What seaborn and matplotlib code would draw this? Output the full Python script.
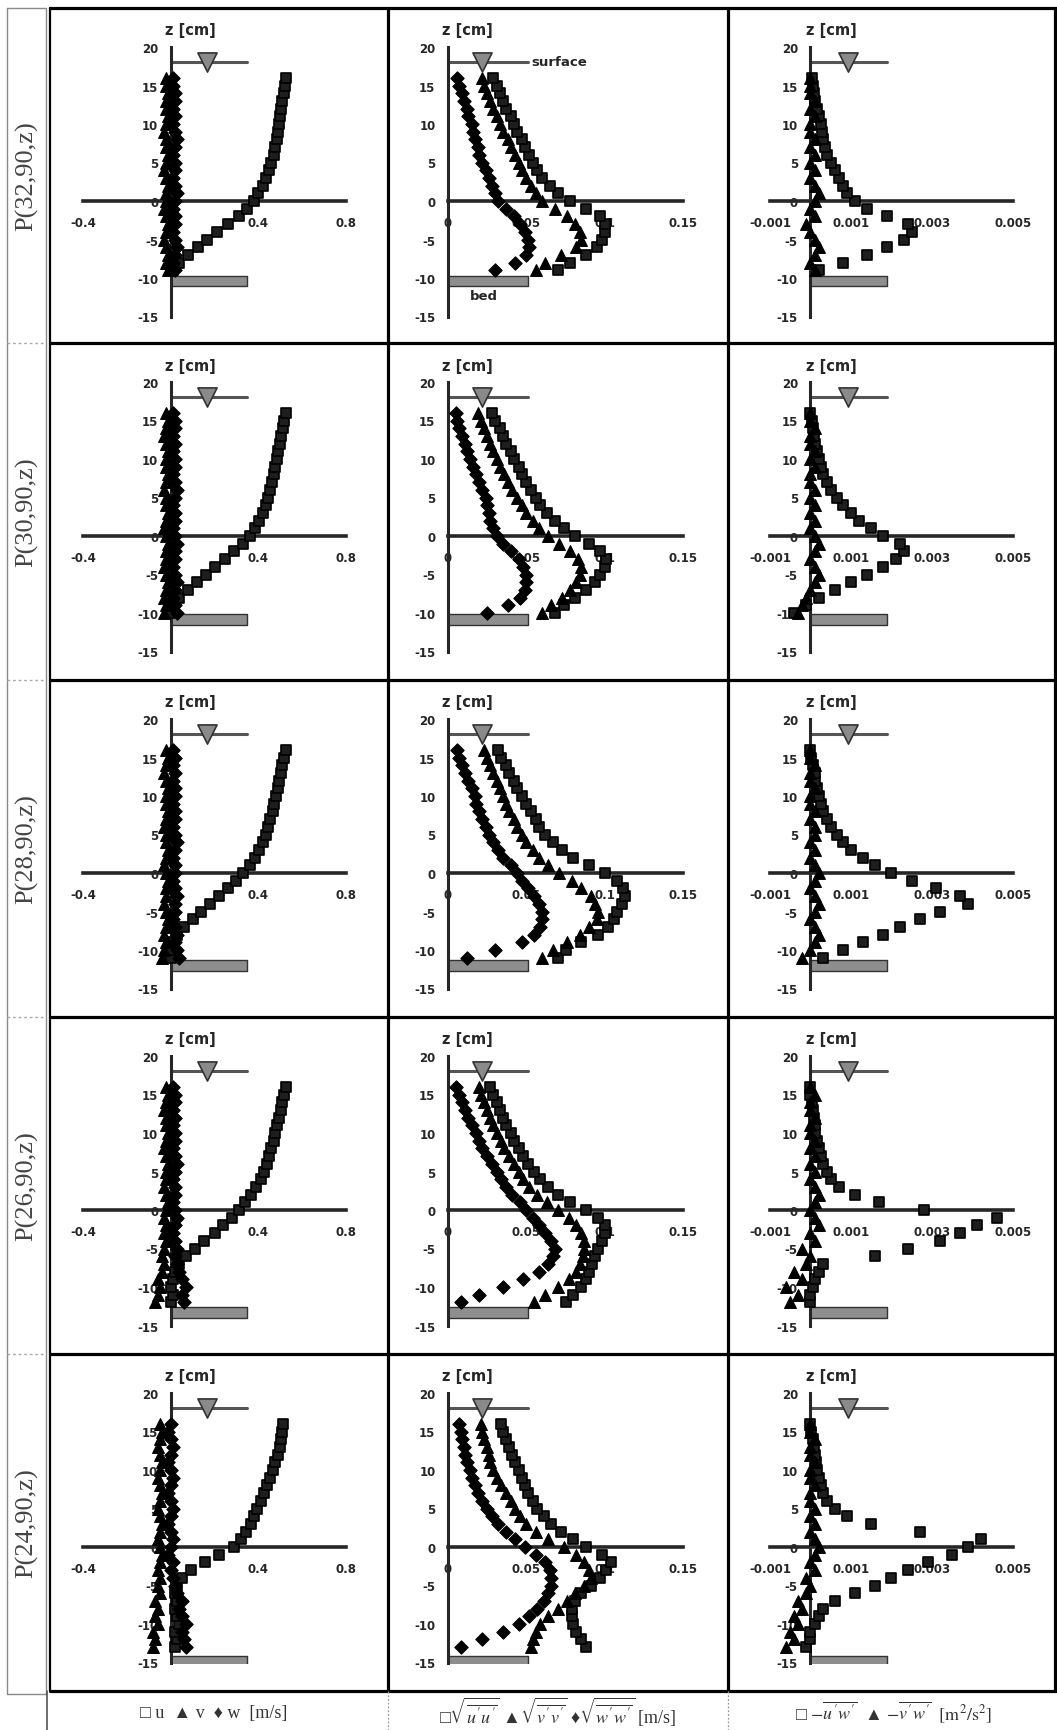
import matplotlib
matplotlib.use("Agg")
import matplotlib.pyplot as plt
from matplotlib.ticker import FixedLocator, MultipleLocator
import seaborn as sns

W, H = 1057, 1731

row_names = ["P(32,90,z)", "P(30,90,z)", "P(28,90,z)", "P(26,90,z)", "P(24,90,z)"]

# measurement heights per station [cm]
z_r1 = [-9, -8, -7, -6, -5, -4, -3, -2, -1, 0, 1, 2, 3, 4, 5, 6, 7, 8, 9, 10, 11, 12, 13, 14, 15, 16]
z_r2 = [-10, -9, -8, -7, -6, -5, -4, -3, -2, -1, 0, 1, 2, 3, 4, 5, 6, 7, 8, 9, 10, 11, 12, 13, 14, 15, 16]
z_r3 = [-11, -10, -9, -8, -7, -6, -5, -4, -3, -2, -1, 0, 1, 2, 3, 4, 5, 6, 7, 8, 9, 10, 11, 12, 13, 14, 15, 16]
z_r4 = [-12, -11, -10, -9, -8, -7, -6, -5, -4, -3, -2, -1, 0, 1, 2, 3, 4, 5, 6, 7, 8, 9, 10, 11, 12, 13, 14, 15, 16]
z_r5 = [-13, -12, -11, -10, -9, -8, -7, -6, -5, -4, -3, -2, -1, 0, 1, 2, 3, 4, 5, 6, 7, 8, 9, 10, 11, 12, 13, 14, 15, 16]

bed_level = [-9.7, -10.1, -11.3, -12.6, -14.1]
surface_level = 18.0

# mean velocities u, v, w [m/s]
u_r1 = [0.01, 0.04, 0.08, 0.125, 0.165, 0.21, 0.26, 0.31, 0.35, 0.38, 0.40, 0.42, 0.435, 0.45, 0.46,
        0.47, 0.478, 0.485, 0.49, 0.495, 0.50, 0.505, 0.51, 0.515, 0.52, 0.528]
v_r1 = [-0.01, -0.02, -0.01, -0.02, -0.03, -0.02, -0.01, -0.02, -0.03, -0.02, -0.02, -0.01, -0.02, -0.03,
        -0.02, -0.01, -0.02, -0.02, -0.03, -0.02, -0.01, -0.02, -0.02, -0.01, -0.02, -0.02]
w_r1 = [0.02, 0.01, 0.02, 0.03, 0.02, 0.01, 0.02, 0.02, 0.01, 0.02, 0.03, 0.02, 0.01, 0.02, 0.02,
        0.01, 0.02, 0.03, 0.02, 0.01, 0.02, 0.01, 0.02, 0.02, 0.01, 0.01]

u_r2 = [0.0, 0.01, 0.04, 0.08, 0.12, 0.16, 0.2, 0.25, 0.29, 0.33, 0.36, 0.385, 0.405, 0.42, 0.435,
        0.445, 0.455, 0.463, 0.47, 0.478, 0.485, 0.492, 0.5, 0.505, 0.512, 0.518, 0.525]
v_r2 = [-0.03, -0.02, -0.03, -0.02, -0.01, -0.02, -0.03, -0.02, -0.02, -0.01, -0.02, -0.03, -0.02, -0.01,
        -0.02, -0.02, -0.03, -0.02, -0.01, -0.02, -0.02, -0.01, -0.02, -0.03, -0.02, -0.01, -0.02]
w_r2 = [0.03, 0.02, 0.01, 0.02, 0.03, 0.02, 0.01, 0.02, 0.02, 0.03, 0.02, 0.01, 0.02, 0.02, 0.01,
        0.02, 0.03, 0.02, 0.01, 0.02, 0.02, 0.01, 0.02, 0.01, 0.02, 0.02, 0.01]

u_r3 = [0.0, 0.0, 0.01, 0.03, 0.06, 0.1, 0.14, 0.18, 0.22, 0.26, 0.3, 0.33, 0.36, 0.385, 0.405,
        0.42, 0.435, 0.445, 0.455, 0.465, 0.473, 0.48, 0.488, 0.495, 0.503, 0.51, 0.518, 0.525]
v_r3 = [-0.04, -0.03, -0.02, -0.03, -0.02, -0.01, -0.02, -0.03, -0.02, -0.02, -0.01, -0.02, -0.03, -0.02,
        -0.01, -0.02, -0.02, -0.03, -0.02, -0.01, -0.02, -0.02, -0.01, -0.02, -0.03, -0.02, -0.01, -0.02]
w_r3 = [0.04, 0.03, 0.02, 0.03, 0.02, 0.01, 0.02, 0.02, 0.03, 0.02, 0.01, 0.02, 0.02, 0.01, 0.02,
        0.03, 0.02, 0.01, 0.02, 0.02, 0.01, 0.02, 0.02, 0.01, 0.02, 0.01, 0.02, 0.01]

u_r4 = [0.0, 0.01, 0.0, 0.01, 0.02, 0.04, 0.07, 0.11, 0.15, 0.2, 0.24, 0.28, 0.31, 0.34, 0.365,
        0.39, 0.41, 0.425, 0.44, 0.45, 0.46, 0.47, 0.478, 0.486, 0.494, 0.502, 0.51, 0.518, 0.525]
v_r4 = [-0.07, -0.06, -0.05, -0.06, -0.04, -0.03, -0.04, -0.03, -0.02, -0.03, -0.02, -0.03, -0.02, -0.01,
        -0.02, -0.03, -0.02, -0.02, -0.01, -0.02, -0.03, -0.02, -0.01, -0.02, -0.02, -0.03, -0.02, -0.01, -0.02]
w_r4 = [0.06, 0.05, 0.07, 0.05, 0.04, 0.03, 0.02, 0.03, 0.02, 0.01, 0.02, 0.03, 0.02, 0.01, 0.02,
        0.02, 0.01, 0.02, 0.03, 0.02, 0.01, 0.02, 0.02, 0.01, 0.02, 0.01, 0.02, 0.02, 0.01]

u_r5 = [0.02, 0.03, 0.02, 0.04, 0.03, 0.02, 0.03, 0.02, 0.03, 0.05, 0.092, 0.157, 0.222, 0.287, 0.32,
        0.345, 0.365, 0.382, 0.395, 0.41, 0.425, 0.44, 0.452, 0.465, 0.477, 0.488, 0.498, 0.504, 0.508, 0.512]
v_r5 = [-0.08, -0.07, -0.08, -0.06, -0.07, -0.06, -0.07, -0.05, -0.06, -0.05, -0.06, -0.05, -0.04, -0.05,
        -0.06, -0.05, -0.04, -0.05, -0.06, -0.05, -0.04, -0.05, -0.06, -0.05, -0.04, -0.05, -0.06, -0.05,
        -0.04, -0.05]
w_r5 = [0.07, 0.06, 0.05, 0.07, 0.05, 0.04, 0.05, 0.03, 0.02, 0.01, 0.0, 0.01, -0.01, 0.0, 0.01,
        0.0, -0.01, 0.0, 0.01, 0.0, -0.01, 0.0, 0.01, 0.0, -0.01, 0.0, 0.01, 0.0, -0.01, 0.0]

# rms fluctuations sqrt(u'u'), sqrt(v'v'), sqrt(w'w') [m/s]
su_r1 = [0.07, 0.078, 0.088, 0.095, 0.098, 0.1, 0.1, 0.097, 0.088, 0.078, 0.07, 0.065, 0.06, 0.057, 0.054,
         0.052, 0.049, 0.047, 0.044, 0.042, 0.04, 0.037, 0.035, 0.033, 0.031, 0.029]
sv_r1 = [0.056, 0.062, 0.072, 0.082, 0.085, 0.084, 0.081, 0.076, 0.068, 0.06, 0.056, 0.053, 0.05, 0.047,
         0.045, 0.043, 0.04, 0.038, 0.035, 0.033, 0.031, 0.029, 0.027, 0.025, 0.023, 0.022]
sw_r1 = [0.03, 0.043, 0.05, 0.052, 0.051, 0.049, 0.046, 0.042, 0.037, 0.032, 0.03, 0.028, 0.026, 0.024,
         0.022, 0.02, 0.019, 0.017, 0.016, 0.015, 0.013, 0.012, 0.01, 0.009, 0.007, 0.006]

su_r2 = [0.068, 0.074, 0.081, 0.088, 0.094, 0.097, 0.1, 0.101, 0.097, 0.09, 0.081, 0.074, 0.068, 0.063,
         0.059, 0.056, 0.053, 0.05, 0.047, 0.045, 0.042, 0.04, 0.037, 0.035, 0.033, 0.03, 0.028]
sv_r2 = [0.06, 0.066, 0.073, 0.078, 0.082, 0.084, 0.085, 0.083, 0.078, 0.071, 0.064, 0.058, 0.054, 0.05,
         0.047, 0.044, 0.041, 0.038, 0.036, 0.033, 0.031, 0.029, 0.027, 0.025, 0.023, 0.021, 0.019]
sw_r2 = [0.025, 0.038, 0.046, 0.049, 0.05, 0.05, 0.048, 0.045, 0.04, 0.035, 0.031, 0.029, 0.027, 0.026,
         0.025, 0.024, 0.022, 0.02, 0.018, 0.016, 0.014, 0.012, 0.011, 0.009, 0.007, 0.006, 0.005]

su_r3 = [0.07, 0.075, 0.085, 0.096, 0.102, 0.106, 0.108, 0.111, 0.113, 0.112, 0.108, 0.1, 0.09, 0.08,
         0.073, 0.067, 0.062, 0.058, 0.056, 0.053, 0.05, 0.047, 0.044, 0.042, 0.039, 0.037, 0.034, 0.032]
sv_r3 = [0.06, 0.067, 0.076, 0.084, 0.09, 0.095, 0.096, 0.094, 0.091, 0.085, 0.079, 0.071, 0.064, 0.058,
         0.054, 0.05, 0.047, 0.044, 0.042, 0.039, 0.037, 0.035, 0.033, 0.031, 0.029, 0.027, 0.025, 0.023]
sw_r3 = [0.012, 0.03, 0.047, 0.055, 0.059, 0.06, 0.06, 0.058, 0.055, 0.051, 0.047, 0.044, 0.04, 0.035,
         0.032, 0.029, 0.026, 0.024, 0.022, 0.02, 0.018, 0.017, 0.015, 0.013, 0.011, 0.009, 0.007, 0.006]

su_r4 = [0.075, 0.08, 0.085, 0.088, 0.09, 0.092, 0.094, 0.096, 0.098, 0.1, 0.1, 0.096, 0.088, 0.078,
         0.07, 0.064, 0.059, 0.055, 0.051, 0.048, 0.045, 0.042, 0.04, 0.037, 0.035, 0.033, 0.031, 0.029, 0.027]
sv_r4 = [0.055, 0.062, 0.07, 0.077, 0.082, 0.084, 0.086, 0.087, 0.087, 0.085, 0.082, 0.077, 0.07, 0.063,
         0.057, 0.052, 0.048, 0.045, 0.042, 0.039, 0.036, 0.034, 0.031, 0.029, 0.027, 0.025, 0.023, 0.021, 0.02]
sw_r4 = [0.008, 0.02, 0.035, 0.048, 0.058, 0.064, 0.067, 0.068, 0.066, 0.062, 0.058, 0.054, 0.05, 0.046,
         0.041, 0.037, 0.034, 0.031, 0.028, 0.025, 0.022, 0.02, 0.018, 0.015, 0.013, 0.011, 0.009, 0.007, 0.005]

su_r5 = [0.088, 0.085, 0.082, 0.08, 0.079, 0.079, 0.081, 0.085, 0.091, 0.097, 0.101, 0.104, 0.098, 0.088,
         0.08, 0.072, 0.066, 0.061, 0.057, 0.054, 0.051, 0.049, 0.047, 0.045, 0.043, 0.041, 0.039, 0.037,
         0.035, 0.034]
sv_r5 = [0.053, 0.054, 0.056, 0.059, 0.064, 0.07, 0.076, 0.081, 0.087, 0.091, 0.09, 0.087, 0.082, 0.074,
         0.064, 0.056, 0.05, 0.046, 0.043, 0.04, 0.037, 0.034, 0.031, 0.029, 0.027, 0.026, 0.025, 0.023,
         0.022, 0.021]
sw_r5 = [0.008, 0.022, 0.035, 0.045, 0.052, 0.057, 0.061, 0.064, 0.066, 0.066, 0.065, 0.062, 0.056, 0.049,
         0.043, 0.037, 0.032, 0.028, 0.025, 0.022, 0.019, 0.017, 0.015, 0.014, 0.012, 0.011, 0.01, 0.009,
         0.008, 0.007]

# Reynolds stresses -u'w', -v'w' [m2/s2]
uw_r1 = [0.0002, 0.0008, 0.0014, 0.0019, 0.0023, 0.0025, 0.0024, 0.0019, 0.0014, 0.0011, 0.0009, 0.0008,
         0.0007, 0.0006, 0.0005, 0.0004, 0.00035, 0.0003, 0.00028, 0.00025, 0.0002, 0.00015, 0.0001,
         0.00008, 0.00005, 0.00003]
vw_r1 = [0.0001, 0.0, 0.0001, 0.0002, 0.0001, 0.0, -0.0001, 0.0001, 0.0, 0.0001, 0.0002, 0.0001, 0.0,
         0.0001, 0.0, 0.0001, 0.0, 0.0001, 0.0, 0.0, 0.0001, 0.0, 0.0001, 0.0, 0.0, 0.0]

uw_r2 = [-0.0004, -0.0001, 0.0002, 0.0006, 0.001, 0.0014, 0.0018, 0.0021, 0.0023, 0.0022, 0.0018, 0.0015,
         0.0012, 0.001, 0.0008, 0.00065, 0.0005, 0.0004, 0.0003, 0.00025, 0.0002, 0.00015, 0.0001,
         0.00008, 0.00005, 0.00003, 0.0]
vw_r2 = [-0.0003, -0.0002, -0.0001, 0.0, 0.0001, 0.0002, 0.0001, 0.0, 0.0001, 0.0002, 0.0001, 0.0, 0.0001,
         0.0, 0.0001, 0.0, 0.0001, 0.0, 0.0, 0.0001, 0.0, 0.0001, 0.0, 0.0, 0.0001, 0.0, 0.0]

uw_r3 = [0.0003, 0.0008, 0.0013, 0.0018, 0.0022, 0.0027, 0.0032, 0.0039, 0.0037, 0.0031, 0.0025, 0.002,
         0.0016, 0.0013, 0.001, 0.0008, 0.00065, 0.0005, 0.0004, 0.0003, 0.00025, 0.0002, 0.00015, 0.00012,
         0.0001, 0.00005, 0.00002, 0.0]
vw_r3 = [-0.0002, 0.0, 0.0001, 0.0002, 0.0001, 0.0, 0.0001, 0.0002, 0.0001, 0.0, 0.0001, 0.0002, 0.0001,
         0.0, 0.0001, 0.0, 0.0001, 0.0001, 0.0, 0.0001, 0.0, 0.0, 0.0001, 0.0, 0.0, 0.0001, 0.0, 0.0]

uw_r4 = [0.0, 0.0, 0.00005, 0.0001, 0.0002, 0.0003, 0.0016, 0.0024, 0.0032, 0.0037, 0.0041, 0.0046, 0.0028,
         0.0017, 0.0011, 0.0007, 0.0005, 0.0004, 0.0003, 0.00025, 0.0002, 0.00015, 0.00012, 0.0001,
         0.00008, 0.00005, 0.00003, 0.0, 0.0]
vw_r4 = [-0.0005, -0.0003, -0.0006, -0.0002, -0.0004, -0.0001, 0.0, -0.0002, 0.0001, 0.0, 0.0002, 0.0001,
         0.0, 0.0001, 0.0002, 0.0001, 0.0, 0.0001, 0.0, 0.0001, 0.0, 0.0001, 0.0, 0.0, 0.0001, 0.0, 0.0,
         0.0001, 0.0]

uw_r5 = [-0.0001, 0.0, 0.0, 0.0001, 0.0002, 0.0003, 0.0006, 0.0011, 0.0016, 0.002, 0.0024, 0.0029, 0.0035,
         0.0039, 0.0042, 0.0027, 0.0015, 0.0009, 0.0006, 0.0004, 0.0003, 0.00025, 0.0002, 0.00016, 0.00013,
         0.0001, 0.00008, 0.00005, 0.00002, 0.0]
vw_r5 = [-0.0006, -0.0004, -0.0005, -0.0003, -0.0004, -0.0002, -0.0003, -0.0001, 0.0, -0.0001, 0.0001, 0.0,
         0.0001, 0.0002, 0.0001, 0.0, 0.0001, 0.0, 0.0001, 0.0, 0.0, 0.0001, 0.0, 0.0, 0.0001, 0.0, 0.0,
         0.0001, 0.0, 0.0]

z_rows = [z_r1, z_r2, z_r3, z_r4, z_r5]
panel_series = [
    [(u_r1, v_r1, w_r1), (u_r2, v_r2, w_r2), (u_r3, v_r3, w_r3), (u_r4, v_r4, w_r4), (u_r5, v_r5, w_r5)],
    [(su_r1, sv_r1, sw_r1), (su_r2, sv_r2, sw_r2), (su_r3, sv_r3, sw_r3), (su_r4, sv_r4, sw_r4),
     (su_r5, sv_r5, sw_r5)],
    [(uw_r1, vw_r1), (uw_r2, vw_r2), (uw_r3, vw_r3), (uw_r4, vw_r4), (uw_r5, vw_r5)],
]

sns.set_style("white")
plt.rcParams["font.family"] = ["DejaVu Sans"]
plt.rcParams["mathtext.fontset"] = "stix"

# pixel layout of the table
col_px = [(83, 346), (448, 683), (770, 1013)]
col_xlim = [(-0.4, 0.8), (0.0, 0.15), (-0.001, 0.005)]
col_xticks = [[-0.4, 0.4, 0.8], [0.0, 0.05, 0.1, 0.15], [-0.001, 0.001, 0.003, 0.005]]
col_xlabels = [["-0.4", "0.4", "0.8"], ["0", "0.05", "0.1", "0.15"], ["-0.001", "0.001", "0.003", "0.005"]]
col_axis_px = [171, 448, 812]
deco_end = [0.35, 0.051, 0.0019]      # extent of surface line / bed bar
tri_x = [0.165, 0.022, 0.00093]
row_top = [9, 344, 681, 1018, 1355]
row_bot = [344, 681, 1018, 1355, 1692]

markers = [("s", "#1e1e1e", 62, 1.2), ("^", "black", 72, 0.8), ("D", "black", 46, 0.8)]

fig = plt.figure(figsize=(W / 100, H / 100), dpi=100)
bg = fig.add_axes([0, 0, 1, 1])
bg.set_xlim(0, W)
bg.set_ylim(H, 0)
bg.axis("off")

# table frame
lw_thick = 2.3
bg.plot([50, W], [9, 9], color="black", lw=lw_thick)
for y in row_bot:
    bg.plot([50, W], [y, y], color="black", lw=lw_thick)
for x in [50, 388, 728, 1055]:
    bg.plot([x, x], [9, 1692], color="black", lw=lw_thick if x != 50 else 1.6)
bg.plot([7, 46, 46, 7, 7], [9, 9, 1695, 1695, 9], color="#8a8a8a", lw=1.0)
for y in row_bot[:-1]:
    bg.plot([7, 46], [y, y], color="#aaaaaa", lw=1.0, ls=(0, (2, 2)))
bg.plot([47, 47], [1692, H], color="#555555", lw=1.2)
for x in [388, 728]:
    bg.plot([x, x], [1692, H], color="#999999", lw=0.9, ls=(0, (1.5, 1.5)))

for r in range(5):
    top = row_top[r]
    bg.text(27, (top + row_bot[r]) / 2, row_names[r], rotation=90, ha="center", va="center",
            family="Liberation Serif", fontsize=19, color="#444444")
    y_hi, y_lo = top + 39, top + 308.5
    for c in range(3):
        x0, x1 = col_px[c]
        ax = fig.add_axes([x0 / W, 1 - y_lo / H, (x1 - x0) / W, (y_lo - y_hi) / H])
        ax.patch.set_alpha(0)
        ax.set_xlim(*col_xlim[c])
        ax.set_ylim(-15, 20)
        for side in ["top", "right"]:
            ax.spines[side].set_visible(False)
        ax.spines["left"].set_position(("data", 0))
        ax.spines["bottom"].set_position(("data", 0))
        ax.spines["left"].set_linewidth(2.2)
        ax.spines["bottom"].set_linewidth(2.6)
        ax.xaxis.set_major_locator(FixedLocator(col_xticks[c]))
        ax.set_xticklabels(col_xlabels[c], fontweight="bold", fontsize=8.5)
        ax.yaxis.set_major_locator(FixedLocator([-15, -10, -5, 0, 5, 10, 15, 20]))
        ax.set_yticklabels(["-15", "-10", "-5", "0", "5", "10", "15", "20"], fontweight="bold", fontsize=8.5)
        ax.yaxis.set_minor_locator(MultipleLocator(1))
        ax.tick_params(axis="y", which="major", direction="out", length=4, width=1.5, pad=5)
        ax.tick_params(axis="y", which="minor", direction="in", length=2, width=1)
        ax.tick_params(axis="x", which="major", direction="inout", length=4, width=1.2, pad=9)
        ax.set_xlabel("")
        ax.set_ylabel("")

        # bed and free surface
        ax.fill_between([0, deco_end[c]], bed_level[r] - 1.4, bed_level[r], color="#8e8e8e",
                        edgecolor="#333333", linewidth=1.0, zorder=2)
        ax.plot([0, deco_end[c]], [surface_level, surface_level], color="#555555", lw=2.2, zorder=2)

        z = z_rows[r]
        for vals, (m, fc, s, lw) in zip(panel_series[c][r], markers):
            sns.scatterplot(x=vals, y=z, ax=ax, marker=m, s=s, color=fc, edgecolor="black",
                            linewidth=lw, legend=False, clip_on=False, zorder=3)
        sns.scatterplot(x=[tri_x[c]], y=[surface_level], ax=ax, marker="v", s=190, color="#8a8a8a",
                        edgecolor="#333333", linewidth=1.2, legend=False, clip_on=False, zorder=4)

        bg.text(col_axis_px[c] - 6, top + 22, "z [cm]", ha="left", va="center",
                fontweight="bold", fontsize=10.5)

bg.text(531, 63, "surface", ha="left", va="center", fontweight="bold", fontsize=9.5)
bg.text(484, 297, "bed", ha="center", va="center", fontweight="bold", fontsize=9.5)

# legend row
leg_font = ["Liberation Serif", "DejaVu Sans"]
bg.text(214, 1714, "□ u  ▲ v  ♦ w  [m/s]", ha="center", va="center", family=leg_font,
        fontsize=13, color="#333333")
bg.text(558, 1712,
        r"□$\sqrt{\overline{u'u'}}$ ▲$\sqrt{\overline{v'v'}}$ ♦$\sqrt{\overline{w'w'}}$ [m/s]",
        ha="center", va="center", family=leg_font, fontsize=13, color="#333333")
bg.text(893, 1712, r"□ $-\overline{u'w'}$  ▲ $-\overline{v'w'}$  $[\mathrm{m}^2/\mathrm{s}^2]$",
        ha="center", va="center", family=leg_font, fontsize=13, color="#333333")

fig.savefig("out.png", dpi=100)
